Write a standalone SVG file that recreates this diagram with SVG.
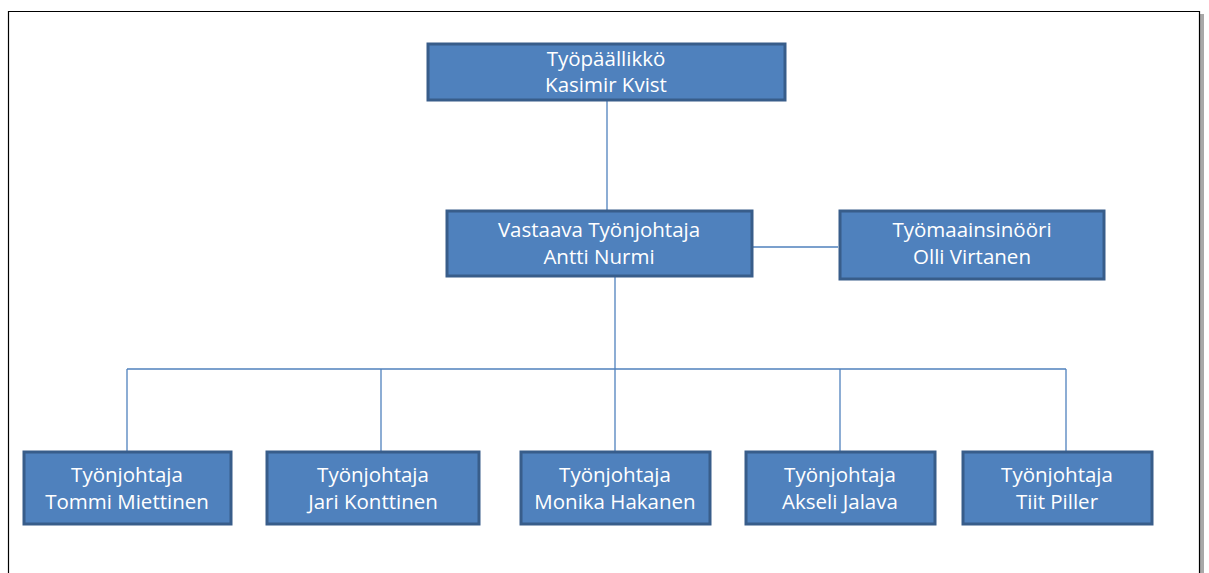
<svg xmlns="http://www.w3.org/2000/svg" width="1209" height="573" viewBox="0 0 1209 573">
<style>
.box{fill:#4f81bd;stroke:#385d8a;stroke-width:3}
.t{font-family:"Open Sans","Liberation Sans",sans-serif;font-size:20.5px;fill:#ffffff;text-anchor:middle}
.c{stroke:#4f81bd;stroke-width:1.3;fill:none}
</style>
<rect x="0" y="0" width="1209" height="573" fill="#ffffff"/>
<g id="frame">
<line x1="1202" y1="14" x2="1202" y2="573" stroke="#a8a8a8" stroke-width="4"/>
<path d="M8.5,573 V11.5 H1199.5 V573" fill="none" stroke="#000000" stroke-width="1.2"/>
</g>
<g id="connectors">
<line class="c" x1="607" y1="100" x2="607" y2="210"/>
<line class="c" x1="615" y1="277" x2="615" y2="369"/>
<line class="c" x1="127" y1="369" x2="1066" y2="369"/>
<line class="c" x1="127" y1="369" x2="127" y2="451"/>
<line class="c" x1="381" y1="369" x2="381" y2="451"/>
<line class="c" x1="615" y1="369" x2="615" y2="451"/>
<line class="c" x1="840" y1="369" x2="840" y2="451"/>
<line class="c" x1="1066" y1="369" x2="1066" y2="451"/>
<line class="c" x1="752" y1="247" x2="838" y2="247"/>
</g>
<g id="n-tyopaallikko">
<rect class="box" x="428" y="44" width="357" height="56"/>
<text class="t" x="606" y="66">Työpäällikkö</text>
<text class="t" x="606" y="92">Kasimir Kvist</text>
</g>
<g id="n-vastaava">
<rect class="box" x="447" y="211" width="305" height="65"/>
<text class="t" x="599" y="237">Vastaava Työnjohtaja</text>
<text class="t" x="599" y="264">Antti Nurmi</text>
</g>
<g id="n-tyomaainsinoori">
<rect class="box" x="840" y="211" width="264" height="68"/>
<text class="t" x="972" y="237">Työmaainsinööri</text>
<text class="t" x="972" y="264">Olli Virtanen</text>
</g>
<g id="n-tommi">
<rect class="box" x="24" y="452" width="207" height="72"/>
<text class="t" x="127" y="482">Työnjohtaja</text>
<text class="t" x="127" y="509">Tommi Miettinen</text>
</g>
<g id="n-jari">
<rect class="box" x="267" y="452" width="212" height="72"/>
<text class="t" x="373" y="482">Työnjohtaja</text>
<text class="t" x="373" y="509">Jari Konttinen</text>
</g>
<g id="n-monika">
<rect class="box" x="521" y="452" width="189" height="72"/>
<text class="t" x="615" y="482">Työnjohtaja</text>
<text class="t" x="615" y="509">Monika Hakanen</text>
</g>
<g id="n-akseli">
<rect class="box" x="746" y="452" width="189" height="72"/>
<text class="t" x="840" y="482">Työnjohtaja</text>
<text class="t" x="840" y="509">Akseli Jalava</text>
</g>
<g id="n-tiit">
<rect class="box" x="963" y="452" width="189" height="72"/>
<text class="t" x="1057" y="482">Työnjohtaja</text>
<text class="t" x="1057" y="509">Tiit Piller</text>
</g>
</svg>
